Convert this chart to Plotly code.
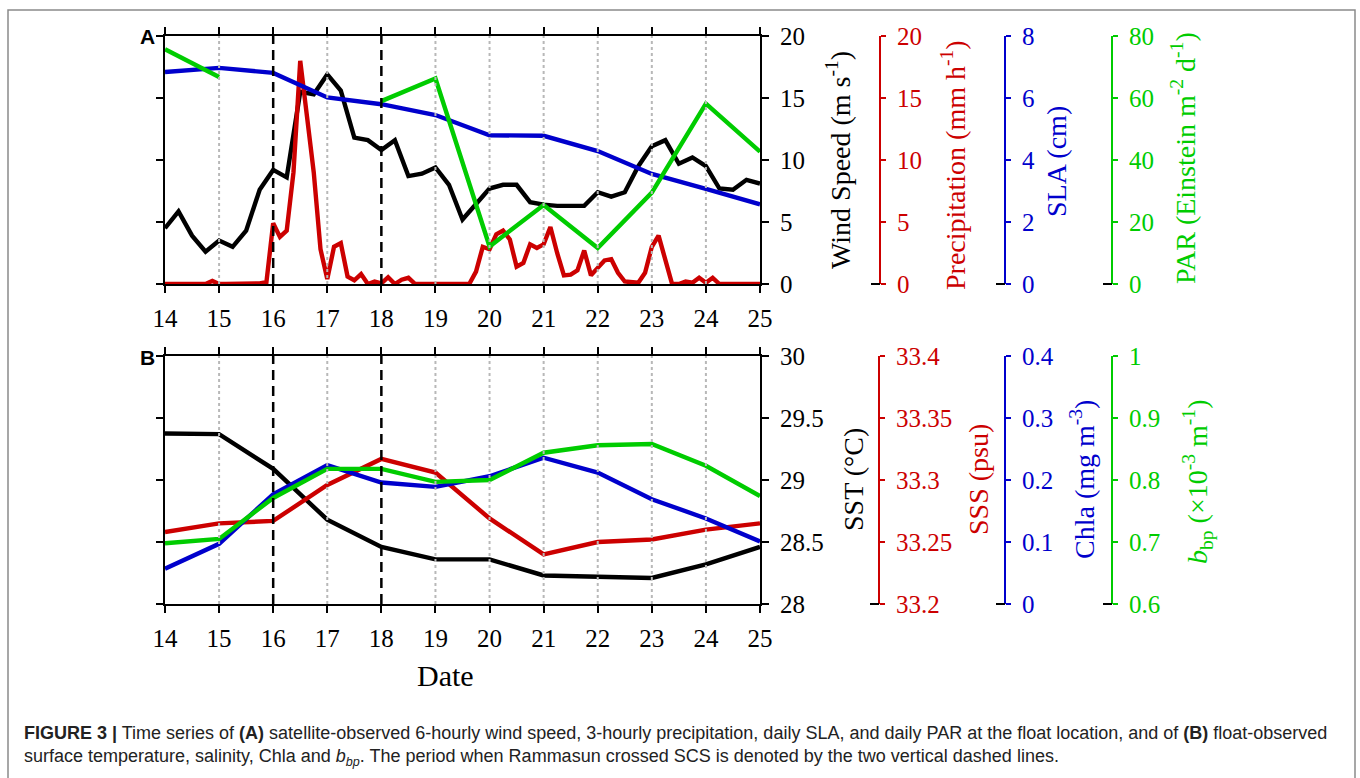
import numpy as np
import plotly.graph_objects as go

# ---------------- data ----------------
days = [14, 15, 16, 17, 18, 19, 20, 21, 22, 23, 24, 25]
day_labels = ["14", "15", "16", "17", "18", "19", "20", "21", "22", "23", "24", "25"]
typhoon_days = [16, 18]

# 6-hourly wind speed (m s-1)
wind_time = np.arange(14, 25.001, 0.25)
wind_speed = [4.5, 5.85, 3.9, 2.6, 3.5, 3.0, 4.3, 7.6, 9.2, 8.6, 15.5, 15.3,
              16.9, 15.6, 11.8, 11.6, 10.8, 11.6, 8.7, 8.9, 9.4, 8.0, 5.2, 6.4,
              7.7, 8.0, 8.0, 6.6, 6.4, 6.3, 6.3, 6.3, 7.4, 7.05, 7.4, 9.5,
              11.1, 11.6, 9.7, 10.2, 9.5, 7.7, 7.6, 8.4, 8.1]

# 3-hourly precipitation (mm h-1)
precip_time = np.arange(14, 25.001, 0.125)
precipitation = [0, 0, 0, 0, 0, 0, 0, 0.25,
                 0, 0, 0, 0, 0, 0, 0.05, 0.15,
                 4.9, 3.8, 4.3, 9.0, 18.0, 13.5, 9.0, 2.8,
                 0.4, 3.0, 3.3, 0.6, 0.3, 0.8, 0, 0.2,
                 0.05, 0.55, 0, 0.35, 0.5, 0,
                 0, 0, 0, 0, 0, 0, 0, 0,
                 1.0, 3.0,
                 2.8, 4.0, 4.3, 3.6, 1.4, 1.7, 3.2, 2.9,
                 3.2, 4.6, 2.5, 0.7, 0.75, 1.1, 2.7, 0.7,
                 1.3, 1.9, 2.0, 0.9, 0.2, 0.15, 0.1, 0.9,
                 3.0, 3.9, 2.0, 0, 0, 0.2, 0.1, 0.5,
                 0.1, 0.5, 0,
                 0, 0, 0, 0, 0, 0]

# daily SLA (cm) and PAR (Einstein m-2 d-1)
sla = [6.84, 6.97, 6.81, 6.02, 5.80, 5.45, 4.80, 4.78, 4.29, 3.55, 3.07, 2.57]
par = [75.7, 66.8, None, None, 59.0, 66.3, 12.1, 25.5, 11.6, 29.5, 58.2, 42.7]

# float observations
sst = [29.375, 29.37, 29.09, 28.68, 28.46, 28.36, 28.36, 28.23, 28.22, 28.21, 28.32, 28.46]
sss = [33.258, 33.265, 33.267, 33.296, 33.317, 33.306, 33.269, 33.240, 33.250, 33.252, 33.260, 33.265]
chla = [0.057, 0.097, 0.177, 0.224, 0.196, 0.189, 0.206, 0.236, 0.212, 0.169, 0.138, 0.101]
bbp = [0.698, 0.705, 0.771, 0.818, 0.818, 0.797, 0.800, 0.844, 0.856, 0.858, 0.823, 0.774]

# tick values / labels
wind_ticks = [0, 5, 10, 15, 20]
precip_ticks = [0, 5, 10, 15, 20]
sla_ticks = [0, 2, 4, 6, 8]
par_ticks = [0, 20, 40, 60, 80]
sst_ticks = [28, 28.5, 29, 29.5, 30]
sst_labels = ["28", "28.5", "29", "29.5", "30"]
sss_ticks = [33.2, 33.25, 33.3, 33.35, 33.4]
sss_labels = ["33.2", "33.25", "33.3", "33.35", "33.4"]
chla_ticks = [0, 0.1, 0.2, 0.3, 0.4]
chla_labels = ["0", "0.1", "0.2", "0.3", "0.4"]
bbp_ticks = [0.6, 0.7, 0.8, 0.9, 1.0]
bbp_labels = ["0.6", "0.7", "0.8", "0.9", "1"]

# ---------------- style ----------------
W, H = 1360, 778
BLACK = "#000000"
RED = "#cc0000"
BLUE = "#0000cc"
GREEN = "#00cc00"
SERIF = "Liberation Serif, Times New Roman, serif"
SANS = "Liberation Sans, Arial, sans-serif"
LW = 4.4
TICKFS = 25
TITLEFS = 28


def px(x):
    return x / W


def py(y):
    return 1 - y / H


xdom = [px(165), px(760)]
domA = [py(284), py(36)]
domB = [py(604), py(356)]
extra_pos_A = [880, 1005, 1112]
extra_pos_B = [879, 1005, 1112]

fig = go.Figure()

# Panel A
fig.add_trace(go.Scatter(x=wind_time, y=wind_speed, mode="lines",
                         line=dict(color=BLACK, width=LW), xaxis="x", yaxis="y"))
fig.add_trace(go.Scatter(x=precip_time, y=precipitation, mode="lines",
                         line=dict(color=RED, width=LW), xaxis="x", yaxis="y2"))
fig.add_trace(go.Scatter(x=days, y=sla, mode="lines",
                         line=dict(color=BLUE, width=LW), xaxis="x", yaxis="y3"))
fig.add_trace(go.Scatter(x=days, y=par, mode="lines", connectgaps=False,
                         line=dict(color=GREEN, width=LW), xaxis="x", yaxis="y4"))
# Panel B
fig.add_trace(go.Scatter(x=days, y=sst, mode="lines",
                         line=dict(color=BLACK, width=LW), xaxis="x2", yaxis="y5"))
fig.add_trace(go.Scatter(x=days, y=sss, mode="lines",
                         line=dict(color=RED, width=LW), xaxis="x2", yaxis="y6"))
fig.add_trace(go.Scatter(x=days, y=chla, mode="lines",
                         line=dict(color=BLUE, width=LW), xaxis="x2", yaxis="y7"))
fig.add_trace(go.Scatter(x=days, y=bbp, mode="lines",
                         line=dict(color=GREEN, width=LW), xaxis="x2", yaxis="y8"))

xaxis_common = dict(range=[14, 25], domain=xdom, tickvals=days, ticktext=day_labels,
                    showline=True, linecolor=BLACK, linewidth=2, mirror="ticks",
                    ticks="outside", ticklen=7, tickwidth=2, tickcolor=BLACK,
                    showgrid=False, zeroline=False, ticklabelstandoff=4,
                    automargin=False,
                    tickfont=dict(family=SERIF, size=TICKFS, color=BLACK))


def main_y(domain, rng, tv, tt, anchor):
    return dict(domain=domain, range=rng, tickvals=tv, ticktext=tt, side="right",
                anchor=anchor, showline=True, linecolor=BLACK, linewidth=2,
                mirror="ticks", ticks="outside", ticklen=7, tickwidth=2,
                tickcolor=BLACK, showgrid=False, zeroline=False,
                ticklabelstandoff=6, automargin=False,
                tickfont=dict(family=SERIF, size=TICKFS, color=BLACK))


def extra_y(over, pos, rng, tv, tt, color):
    return dict(overlaying=over, anchor="free", position=px(pos), side="right",
                range=rng, tickvals=tv, ticktext=tt, showline=True,
                linecolor=color, linewidth=2, ticks="outside", ticklen=5,
                tickwidth=2, tickcolor=color, showgrid=False, zeroline=False,
                ticklabelstandoff=6, automargin=False,
                tickfont=dict(family=SERIF, size=TICKFS, color=color))


fig.update_layout(
    width=W, height=H, autosize=False,
    margin=dict(l=0, r=0, t=0, b=0, pad=0, autoexpand=False),
    paper_bgcolor="white", plot_bgcolor="white",
    showlegend=False,
    xaxis=dict(anchor="y", **xaxis_common),
    xaxis2=dict(anchor="y5", **xaxis_common),
    yaxis=main_y(domA, [0, 20], wind_ticks, [str(v) for v in wind_ticks], "x"),
    yaxis2=extra_y("y", extra_pos_A[0], [0, 20], precip_ticks, [str(v) for v in precip_ticks], RED),
    yaxis3=extra_y("y", extra_pos_A[1], [0, 8], sla_ticks, [str(v) for v in sla_ticks], BLUE),
    yaxis4=extra_y("y", extra_pos_A[2], [0, 80], par_ticks, [str(v) for v in par_ticks], GREEN),
    yaxis5=main_y(domB, [28, 30], sst_ticks, sst_labels, "x2"),
    yaxis6=extra_y("y5", extra_pos_B[0], [33.2, 33.4], sss_ticks, sss_labels, RED),
    yaxis7=extra_y("y5", extra_pos_B[1], [0, 0.4], chla_ticks, chla_labels, BLUE),
    yaxis8=extra_y("y5", extra_pos_B[2], [0.6, 1.0], bbp_ticks, bbp_labels, GREEN),
)

# grid lines (dotted gray) and typhoon lines (dashed black), drawn above data
shapes = []
for xr, yr in (("x", "y domain"), ("x2", "y5 domain")):
    for d in days[1:-1]:
        if d in typhoon_days:
            continue
        shapes.append(dict(type="line", xref=xr, yref=yr, x0=d, x1=d, y0=0, y1=1,
                           layer="above", line=dict(color="#b8b8b8", width=2, dash="dot")))
    for d in typhoon_days:
        shapes.append(dict(type="line", xref=xr, yref=yr, x0=d, x1=d, y0=0, y1=1,
                           layer="above", line=dict(color=BLACK, width=2.5, dash="10px,6px")))
# small black stubs at the base of the extra axes
for positions, dom in ((extra_pos_A, domA), (extra_pos_B, domB)):
    for p in positions:
        shapes.append(dict(type="line", xref="paper", yref="paper",
                           x0=px(p - 9), x1=px(p), y0=dom[0], y1=dom[0],
                           line=dict(color=BLACK, width=2)))
# outer frame
shapes.append(dict(type="rect", xref="paper", yref="paper", x0=px(8), x1=px(1355),
                   y0=-0.05, y1=py(10), line=dict(color="#8a8a8a", width=1.5),
                   layer="below"))
fig.update_layout(shapes=shapes)

ann = []


def vtitle(text, x, y, color):
    ann.append(dict(text=text, x=px(x), y=py(y), xref="paper", yref="paper",
                    showarrow=False, textangle=-90, xanchor="center", yanchor="middle",
                    font=dict(family=SERIF, size=TITLEFS, color=color)))


vtitle("Wind Speed (m s<sup>-1</sup>)", 838, 160, BLACK)
vtitle("Precipitation (mm h<sup>-1</sup>)", 953, 165, RED)
vtitle("SLA (cm)", 1057, 162, BLUE)
vtitle("PAR (Einstein m<sup>-2</sup> d<sup>-1</sup>)", 1183, 158, GREEN)
vtitle("SST (°C)", 853, 480, BLACK)
vtitle("SSS (psu)", 978, 480, RED)
vtitle("Chla (mg m<sup>-3</sup>)", 1082, 480, BLUE)
vtitle("<i>b</i><sub>bp</sub> (×10<sup>-3</sup> m<sup>-1</sup>)", 1197, 482, GREEN)

for lab, y in (("A", 36), ("B", 357)):
    ann.append(dict(text="<b>%s</b>" % lab, x=px(147), y=py(y), xref="paper", yref="paper",
                    showarrow=False, xanchor="center", yanchor="middle",
                    font=dict(family=SANS, size=21, color=BLACK)))

ann.append(dict(text="Date", x=px(445), y=py(675), xref="paper", yref="paper",
                showarrow=False, xanchor="center", yanchor="middle",
                font=dict(family=SERIF, size=30, color=BLACK)))

cap1 = ("<b>FIGURE 3 |</b> Time series of <b>(A)</b> satellite-observed 6-hourly wind speed, "
        "3-hourly precipitation, daily SLA, and daily PAR at the float location, and of "
        "<b>(B)</b> float-observed")
cap2 = ("surface temperature, salinity, Chla and <i>b<sub>bp</sub></i>. The period when "
        "Rammasun crossed SCS is denoted by the two vertical dashed lines.")
for txt, y in ((cap1, 733), (cap2, 757)):
    ann.append(dict(text=txt, x=px(22), y=py(y), xref="paper", yref="paper",
                    showarrow=False, xanchor="left", yanchor="middle", align="left",
                    font=dict(family=SANS, size=18, color="#222222")))

fig.update_layout(annotations=ann)

fig.write_html("out.html", config={"displayModeBar": False},
               post_script="document.body.style.margin='0px';document.body.style.overflow='hidden';")
